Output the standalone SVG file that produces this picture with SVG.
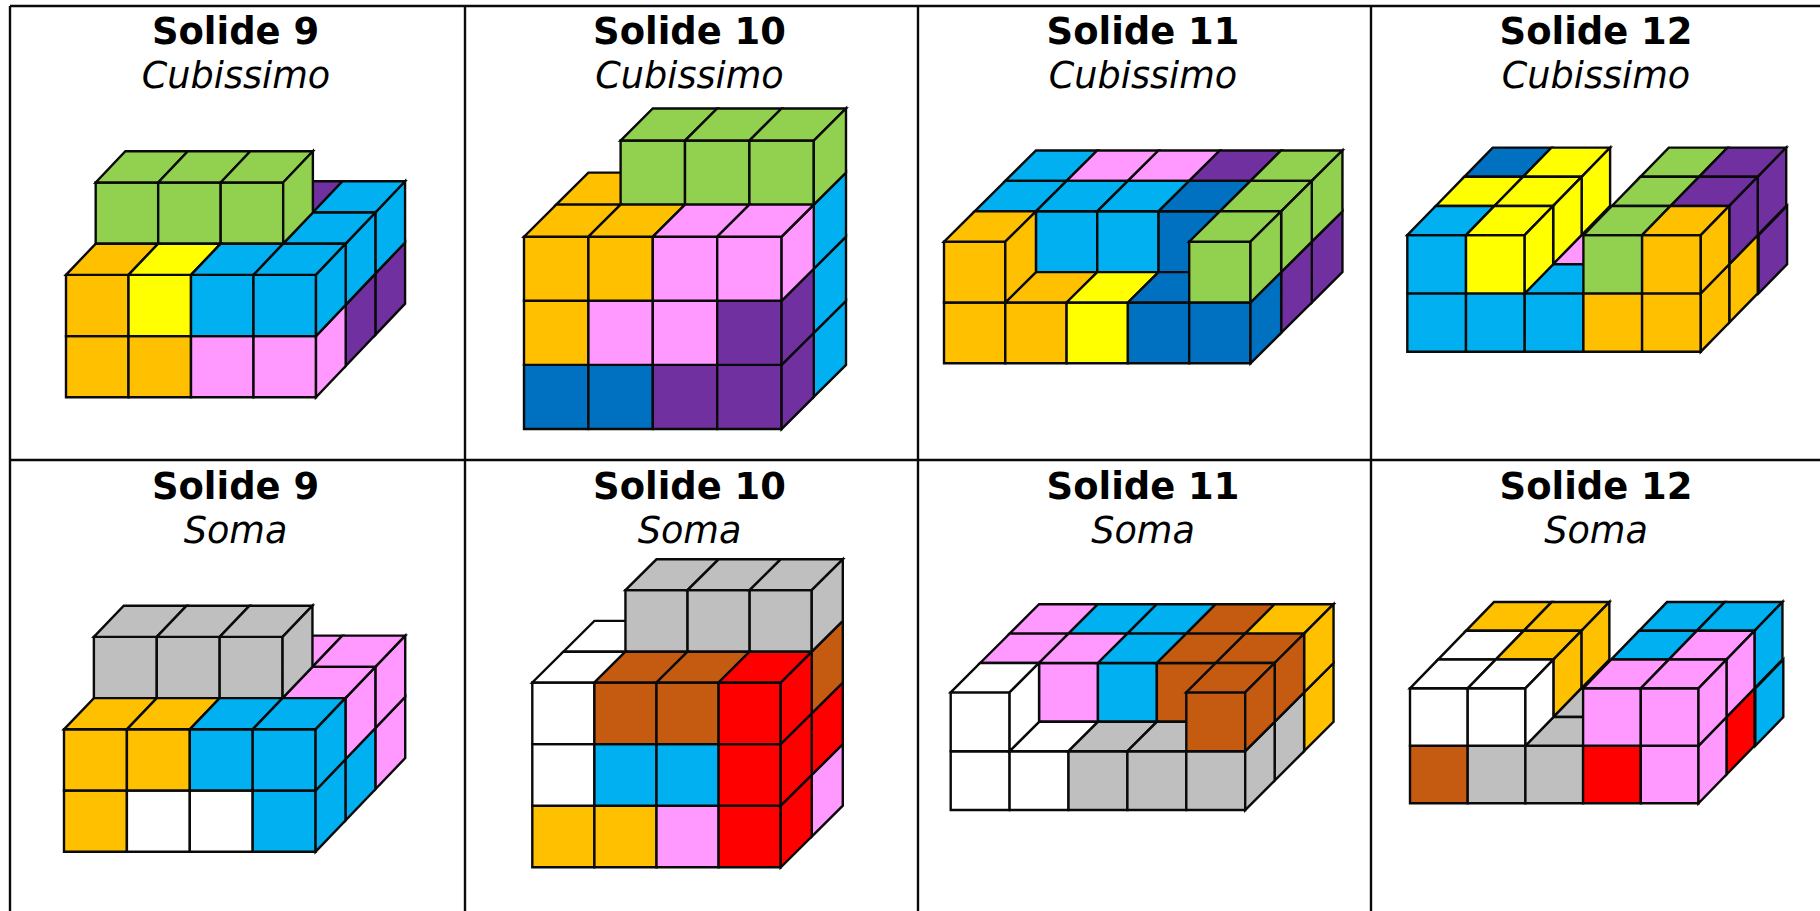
<svg xmlns="http://www.w3.org/2000/svg" width="1820" height="911" viewBox="0 0 1820 911">
<style>
text{text-anchor:middle;font-family:"DejaVu Sans",Verdana,sans-serif;font-size:36.9px;fill:#000}
.t{font-weight:700}.s{font-style:italic;font-size:36.6px}
.l{stroke:#000;stroke-width:2;fill:none}
path{stroke:#0a0a0a;stroke-width:2.4;stroke-linejoin:miter;vector-effect:non-scaling-stroke}
.o{fill:#FFC000}.y{fill:#FFFF00}.c{fill:#00B0F0}.p{fill:#FF99FF}.u{fill:#7030A0}.b{fill:#0070C0}.g{fill:#92D050}.e{fill:#BFBFBF}.n{fill:#C55A11}.r{fill:#FF0000}.w{fill:#FFFFFF}
</style>
<defs>
<path id="F" d="M0 0H1V1H0Z"/>
<path id="T" d="M0 0H1L1.5 -.5H.5Z"/>
<path id="S" d="M1 0L1.5 -.5V.5L1 1Z"/>
<path id="T9" d="M0 0H1L1.475 -.51H.475Z"/>
<path id="S9" d="M1 0L1.475 -.51V.49L1 1Z"/>
<path id="T2" d="M0 0H1L1.485 -.5H.485Z"/>
<path id="S2" d="M1 0L1.485 -.5V.5L1 1Z"/>
</defs>
<rect width="1820" height="911" fill="#fff"/>
<g id="table" class="l">
<path d="M10 6H1820M10 460H1820M10 6V911M465 6V911M918 6V911M1371 6V911"/>
</g>
<g id="captions">
<text class="t" x="235.500" y="44">Solide 9</text><text class="s" x="236" y="87.500">Cubissimo</text>
<text class="t" x="689.500" y="44">Solide 10</text><text class="s" x="689.500" y="87.500">Cubissimo</text>
<text class="t" x="1143" y="44">Solide 11</text><text class="s" x="1143" y="87.500">Cubissimo</text>
<text class="t" x="1596" y="44">Solide 12</text><text class="s" x="1596" y="87.500">Cubissimo</text>
<text class="t" x="235.500" y="499.300">Solide 9</text><text class="s" x="235.500" y="542.700">Soma</text>
<text class="t" x="689.500" y="499.300">Solide 10</text><text class="s" x="689.500" y="542.700">Soma</text>
<text class="t" x="1143" y="499.300">Solide 11</text><text class="s" x="1143" y="542.700">Soma</text>
<text class="t" x="1596" y="499.300">Solide 12</text><text class="s" x="1596" y="542.700">Soma</text>
</g>
<g id="solide9-cubissimo" transform="translate(66 397.3) scale(62.5 61.2)">
<use href="#T9" x="2.95" y="-3.02" class="u"/><use href="#S9" x="3.95" y="-2.02" class="u"/><use href="#S9" x="3.95" y="-3.02" class="c"/><use href="#T9" x="3.95" y="-3.02" class="c"/>
<use href="#S9" x="3.475" y="-1.51" class="u"/><use href="#S9" x="3.475" y="-2.51" class="c"/><use href="#T9" x="3.475" y="-2.51" class="c"/>
<use href="#F" x=".475" y="-3.51" class="g"/><use href="#F" x="1.475" y="-3.51" class="g"/><use href="#F" x="2.475" y="-3.51" class="g"/>
<use href="#T9" x=".475" y="-3.51" class="g"/><use href="#T9" x="1.475" y="-3.51" class="g"/><use href="#T9" x="2.475" y="-3.51" class="g"/><use href="#S9" x="2.475" y="-3.51" class="g"/>
<use href="#F" x="0" y="-1" class="o"/><use href="#F" x="1" y="-1" class="o"/><use href="#F" x="2" y="-1" class="p"/><use href="#F" x="3" y="-1" class="p"/><use href="#S9" x="3" y="-1" class="p"/>
<use href="#F" x="0" y="-2" class="o"/><use href="#F" x="1" y="-2" class="y"/><use href="#F" x="2" y="-2" class="c"/><use href="#F" x="3" y="-2" class="c"/>
<use href="#T9" x="0" y="-2" class="o"/><use href="#T9" x="1" y="-2" class="y"/><use href="#T9" x="2" y="-2" class="c"/><use href="#T9" x="3" y="-2" class="c"/><use href="#S9" x="3" y="-2" class="c"/>
</g>
<g id="solide9-soma" transform="translate(64 851.7) scale(62.9 61.2)">
<use href="#T9" x="2.95" y="-3.02" class="p"/><use href="#S9" x="3.95" y="-2.02" class="p"/><use href="#S9" x="3.95" y="-3.02" class="p"/><use href="#T9" x="3.95" y="-3.02" class="p"/>
<use href="#S9" x="3.475" y="-1.51" class="c"/><use href="#S9" x="3.475" y="-2.51" class="p"/><use href="#T9" x="3.475" y="-2.51" class="p"/>
<use href="#F" x=".475" y="-3.51" class="e"/><use href="#F" x="1.475" y="-3.51" class="e"/><use href="#F" x="2.475" y="-3.51" class="e"/>
<use href="#T9" x=".475" y="-3.51" class="e"/><use href="#T9" x="1.475" y="-3.51" class="e"/><use href="#T9" x="2.475" y="-3.51" class="e"/><use href="#S9" x="2.475" y="-3.51" class="e"/>
<use href="#F" x="0" y="-1" class="o"/><use href="#F" x="1" y="-1" class="w"/><use href="#F" x="2" y="-1" class="w"/><use href="#F" x="3" y="-1" class="c"/><use href="#S9" x="3" y="-1" class="c"/>
<use href="#F" x="0" y="-2" class="o"/><use href="#F" x="1" y="-2" class="o"/><use href="#F" x="2" y="-2" class="c"/><use href="#F" x="3" y="-2" class="c"/>
<use href="#T9" x="0" y="-2" class="o"/><use href="#T9" x="1" y="-2" class="o"/><use href="#T9" x="2" y="-2" class="c"/><use href="#T9" x="3" y="-2" class="c"/><use href="#S9" x="3" y="-2" class="c"/>
</g>
<g id="solide10-cubissimo" transform="translate(524 429) scale(64.4 64.1)">
<use href="#T" x=".5" y="-3.5" class="o"/>
<use href="#S" x="3.5" y="-1.5" class="c"/><use href="#S" x="3.5" y="-2.5" class="c"/><use href="#S" x="3.5" y="-3.5" class="c"/>
<use href="#F" x="1.5" y="-4.5" class="g"/><use href="#F" x="2.5" y="-4.5" class="g"/><use href="#F" x="3.5" y="-4.5" class="g"/>
<use href="#T" x="1.5" y="-4.5" class="g"/><use href="#T" x="2.5" y="-4.5" class="g"/><use href="#T" x="3.5" y="-4.5" class="g"/><use href="#S" x="3.5" y="-4.5" class="g"/>
<use href="#F" x="0" y="-1" class="b"/><use href="#F" x="1" y="-1" class="b"/><use href="#F" x="2" y="-1" class="u"/><use href="#F" x="3" y="-1" class="u"/><use href="#S" x="3" y="-1" class="u"/>
<use href="#F" x="0" y="-2" class="o"/><use href="#F" x="1" y="-2" class="p"/><use href="#F" x="2" y="-2" class="p"/><use href="#F" x="3" y="-2" class="u"/><use href="#S" x="3" y="-2" class="u"/>
<use href="#F" x="0" y="-3" class="o"/><use href="#F" x="1" y="-3" class="o"/><use href="#F" x="2" y="-3" class="p"/><use href="#F" x="3" y="-3" class="p"/><use href="#S" x="3" y="-3" class="p"/>
<use href="#T" x="0" y="-3" class="o"/><use href="#T" x="1" y="-3" class="o"/><use href="#T" x="2" y="-3" class="p"/><use href="#T" x="3" y="-3" class="p"/>
</g>
<g id="solide10-soma" transform="translate(532.3 867.3) scale(62.1 61.6)">
<use href="#T" x=".5" y="-3.5" class="w"/>
<use href="#S" x="3.5" y="-1.5" class="p"/><use href="#S" x="3.5" y="-2.5" class="r"/><use href="#S" x="3.5" y="-3.5" class="n"/>
<use href="#F" x="1.5" y="-4.5" class="e"/><use href="#F" x="2.5" y="-4.5" class="e"/><use href="#F" x="3.5" y="-4.5" class="e"/>
<use href="#T" x="1.5" y="-4.5" class="e"/><use href="#T" x="2.5" y="-4.5" class="e"/><use href="#T" x="3.5" y="-4.5" class="e"/><use href="#S" x="3.5" y="-4.5" class="e"/>
<use href="#F" x="0" y="-1" class="o"/><use href="#F" x="1" y="-1" class="o"/><use href="#F" x="2" y="-1" class="p"/><use href="#F" x="3" y="-1" class="r"/><use href="#S" x="3" y="-1" class="r"/>
<use href="#F" x="0" y="-2" class="w"/><use href="#F" x="1" y="-2" class="c"/><use href="#F" x="2" y="-2" class="c"/><use href="#F" x="3" y="-2" class="r"/><use href="#S" x="3" y="-2" class="r"/>
<use href="#F" x="0" y="-3" class="w"/><use href="#F" x="1" y="-3" class="n"/><use href="#F" x="2" y="-3" class="n"/><use href="#F" x="3" y="-3" class="r"/><use href="#S" x="3" y="-3" class="r"/>
<use href="#T" x="0" y="-3" class="w"/><use href="#T" x="1" y="-3" class="n"/><use href="#T" x="2" y="-3" class="n"/><use href="#T" x="3" y="-3" class="r"/>
</g>
<g id="solide11-cubissimo" transform="translate(944 363.3) scale(61.3 60.8)">
<use href="#T" x="1" y="-3" class="c"/><use href="#T" x="2" y="-3" class="p"/><use href="#T" x="3" y="-3" class="p"/><use href="#T" x="4" y="-3" class="u"/><use href="#T" x="5" y="-3" class="g"/><use href="#S" x="5" y="-2" class="u"/><use href="#S" x="5" y="-3" class="g"/>
<use href="#F" x="1.5" y="-2.5" class="c"/><use href="#F" x="2.5" y="-2.5" class="c"/><use href="#F" x="3.5" y="-2.5" class="b"/>
<use href="#T" x=".5" y="-2.5" class="c"/><use href="#T" x="1.5" y="-2.5" class="c"/><use href="#T" x="2.5" y="-2.5" class="c"/><use href="#T" x="3.5" y="-2.5" class="b"/><use href="#T" x="4.5" y="-2.5" class="g"/><use href="#S" x="4.5" y="-1.5" class="u"/><use href="#S" x="4.5" y="-2.5" class="g"/>
<use href="#F" x="0" y="-1" class="o"/><use href="#F" x="1" y="-1" class="o"/><use href="#F" x="2" y="-1" class="y"/><use href="#F" x="3" y="-1" class="b"/><use href="#F" x="4" y="-1" class="b"/>
<use href="#T" x="1" y="-1" class="o"/><use href="#T" x="2" y="-1" class="y"/><use href="#T" x="3" y="-1" class="b"/><use href="#S" x="4" y="-1" class="b"/>
<use href="#F" x="0" y="-2" class="o"/><use href="#T" x="0" y="-2" class="o"/><use href="#S" x="0" y="-2" class="o"/>
<use href="#F" x="4" y="-2" class="g"/><use href="#T" x="4" y="-2" class="g"/><use href="#S" x="4" y="-2" class="g"/>
</g>
<g id="solide11-soma" transform="translate(950.7 810) scale(58.9 58.8)">
<use href="#T" x="1" y="-3" class="p"/><use href="#T" x="2" y="-3" class="c"/><use href="#T" x="3" y="-3" class="c"/><use href="#T" x="4" y="-3" class="n"/><use href="#T" x="5" y="-3" class="o"/><use href="#S" x="5" y="-2" class="o"/><use href="#S" x="5" y="-3" class="o"/>
<use href="#F" x="1.5" y="-2.5" class="p"/><use href="#F" x="2.5" y="-2.5" class="c"/><use href="#F" x="3.5" y="-2.5" class="n"/>
<use href="#T" x=".5" y="-2.5" class="p"/><use href="#T" x="1.5" y="-2.5" class="p"/><use href="#T" x="2.5" y="-2.5" class="c"/><use href="#T" x="3.5" y="-2.5" class="n"/><use href="#T" x="4.5" y="-2.5" class="n"/><use href="#S" x="4.5" y="-1.5" class="e"/><use href="#S" x="4.5" y="-2.5" class="n"/>
<use href="#F" x="0" y="-1" class="w"/><use href="#F" x="1" y="-1" class="w"/><use href="#F" x="2" y="-1" class="e"/><use href="#F" x="3" y="-1" class="e"/><use href="#F" x="4" y="-1" class="e"/>
<use href="#T" x="1" y="-1" class="w"/><use href="#T" x="2" y="-1" class="e"/><use href="#T" x="3" y="-1" class="e"/><use href="#S" x="4" y="-1" class="e"/>
<use href="#F" x="0" y="-2" class="w"/><use href="#T" x="0" y="-2" class="w"/><use href="#S" x="0" y="-2" class="w"/>
<use href="#F" x="4" y="-2" class="n"/><use href="#T" x="4" y="-2" class="n"/><use href="#S" x="4" y="-2" class="n"/>
</g>
<g id="solide12-cubissimo" transform="translate(1407.3 351.7) scale(58.7 58.3)">
<use href="#T2" x=".97" y="-3" class="b"/><use href="#T2" x="1.97" y="-3" class="y"/><use href="#S2" x="1.97" y="-3" class="y"/><use href="#T2" x="3.97" y="-3" class="g"/><use href="#T2" x="4.97" y="-3" class="u"/><use href="#S2" x="4.985" y="-2" class="u"/><use href="#S2" x="4.97" y="-3" class="u"/>
<use href="#T2" x=".485" y="-2.5" class="y"/><use href="#T2" x="1.485" y="-2.5" class="y"/><use href="#S2" x="1.485" y="-2.5" class="y"/><use href="#T2" x="2.485" y="-1.5" class="p"/><use href="#T2" x="3.485" y="-2.5" class="g"/><use href="#T2" x="4.485" y="-2.5" class="u"/><use href="#S2" x="4.485" y="-1.5" class="o"/><use href="#S2" x="4.485" y="-2.5" class="u"/>
<use href="#F" x="0" y="-1" class="c"/><use href="#F" x="1" y="-1" class="c"/><use href="#F" x="2" y="-1" class="c"/><use href="#F" x="3" y="-1" class="o"/><use href="#F" x="4" y="-1" class="o"/>
<use href="#T2" x="2" y="-1" class="c"/><use href="#S2" x="4" y="-1" class="o"/>
<use href="#F" x="0" y="-2" class="c"/><use href="#T2" x="0" y="-2" class="c"/>
<use href="#F" x="1" y="-2" class="y"/><use href="#T2" x="1" y="-2" class="y"/><use href="#S2" x="1" y="-2" class="y"/>
<use href="#F" x="3" y="-2" class="g"/><use href="#T2" x="3" y="-2" class="g"/>
<use href="#F" x="4" y="-2" class="o"/><use href="#T2" x="4" y="-2" class="o"/><use href="#S2" x="4" y="-2" class="o"/>
</g>
<g id="solide12-soma" transform="translate(1410 803.3) scale(57.7 57.5)">
<use href="#T2" x=".97" y="-3" class="o"/><use href="#T2" x="1.97" y="-3" class="o"/><use href="#S2" x="1.97" y="-3" class="o"/><use href="#T2" x="3.97" y="-3" class="c"/><use href="#T2" x="4.97" y="-3" class="c"/><use href="#S2" x="4.985" y="-2" class="c"/><use href="#S2" x="4.97" y="-3" class="c"/>
<use href="#T2" x=".485" y="-2.5" class="w"/><use href="#T2" x="1.485" y="-2.5" class="o"/><use href="#S2" x="1.485" y="-2.5" class="o"/><use href="#T2" x="2.485" y="-1.5" class="e"/><use href="#T2" x="3.485" y="-2.5" class="c"/><use href="#T2" x="4.485" y="-2.5" class="p"/><use href="#S2" x="4.485" y="-1.5" class="r"/><use href="#S2" x="4.485" y="-2.5" class="p"/>
<use href="#F" x="0" y="-1" class="n"/><use href="#F" x="1" y="-1" class="e"/><use href="#F" x="2" y="-1" class="e"/><use href="#F" x="3" y="-1" class="r"/><use href="#F" x="4" y="-1" class="p"/>
<use href="#T2" x="2" y="-1" class="e"/><use href="#S2" x="4" y="-1" class="p"/>
<use href="#F" x="0" y="-2" class="w"/><use href="#T2" x="0" y="-2" class="w"/>
<use href="#F" x="1" y="-2" class="w"/><use href="#T2" x="1" y="-2" class="w"/><use href="#S2" x="1" y="-2" class="w"/>
<use href="#F" x="3" y="-2" class="p"/><use href="#T2" x="3" y="-2" class="p"/>
<use href="#F" x="4" y="-2" class="p"/><use href="#T2" x="4" y="-2" class="p"/><use href="#S2" x="4" y="-2" class="p"/>
</g>
</svg>
